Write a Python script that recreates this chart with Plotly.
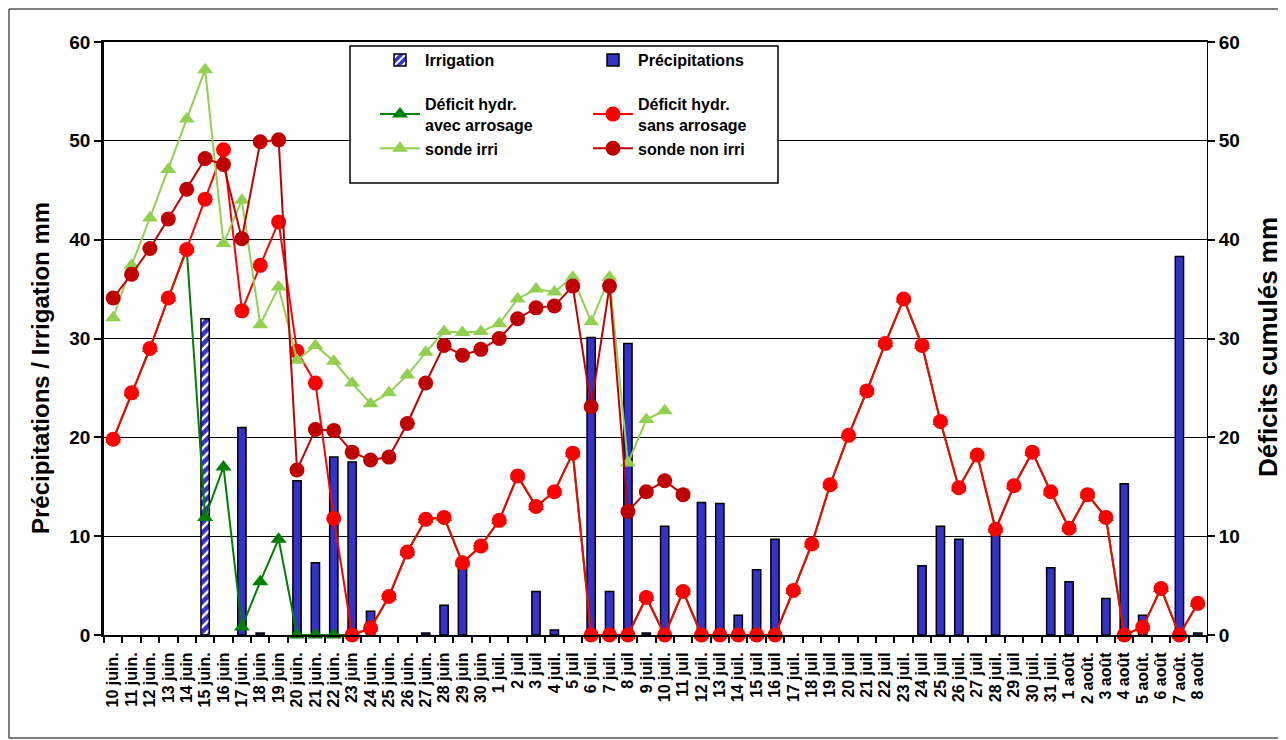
import plotly.graph_objects as go

dates = ["10 juin.", "11 juin.", "12 juin.", "13 juin", "14 juin", "15 juin.", "16 juin", "17 juin.",
         "18 juin", "19 juin", "20 juin.", "21 juin.", "22 juin.", "23 juin", "24 juin.", "25 juin.",
         "26 juin.", "27 juin.", "28 juin", "29 juin", "30 juin", "1 juil.", "2 juil", "3 juil",
         "4 juil.", "5 juil", "6 juil.", "7 juil.", "8 juil", "9 juil.", "10 juil.", "11 juil",
         "12 juil.", "13 juil", "14 juil.", "15 juil", "16 juil", "17 juil.", "18 juil", "19 juil",
         "20 juil", "21 juil", "22 juil", "23 juil.", "24 juil", "25 juil", "26 juil.", "27 juil",
         "28 juil.", "29 juil", "30 juil.", "31 juil.", "1 août", "2 août.", "3 août", "4 août",
         "5 août.", "6 août", "7 août.", "8 août"]

irrigation = [None] * 60
irrigation[5] = 32.0

precipitations = [None, None, None, None, None, None, None, 21.0, 0.2, None,
                  15.6, 7.3, 18.0, 17.5, 2.4, None, None, 0.2, 3.0, 7.2,
                  None, None, None, 4.4, 0.5, None, 30.1, 4.4, 29.5, 0.2,
                  11.0, None, 13.4, 13.3, 2.0, 6.6, 9.7, None, None, None,
                  None, None, None, None, 7.0, 11.0, 9.7, None, 10.5, None,
                  None, 6.8, 5.4, None, 3.7, 15.3, 2.0, None, 38.3, 0.2]

deficit_sans = [19.8, 24.5, 29.0, 34.1, 39.0, 44.1, 49.1, 32.8, 37.4, 41.8,
                28.7, 25.5, 11.8, 0, 0.7, 3.9, 8.4, 11.7, 11.9, 7.3,
                9.0, 11.6, 16.1, 13.0, 14.5, 18.4, 0, 0, 0, 3.8,
                0, 4.4, 0, 0, 0, 0, 0, 4.5, 9.2, 15.2,
                20.2, 24.7, 29.5, 34.0, 29.3, 21.6, 14.9, 18.2, 10.7, 15.1,
                18.5, 14.5, 10.8, 14.2, 11.9, 0, 0.8, 4.7, 0, 3.2]

deficit_avec = [19.8, 24.5, 29.0, 34.1, 39.0, 11.9, 17.0, 0.8, 5.4, 9.7,
                0, 0, 0, 0, 0.7, 3.9, 8.4, 11.7, 11.9, 7.3,
                9.0, 11.6, 16.1, 13.0, 14.5, 18.4, 0, 0, 0, 3.8,
                0, 4.4, 0, 0, 0, 0, 0, 4.5, 9.2, 15.2,
                20.2, 24.7, 29.5, 34.0, 29.3, 21.6, 14.9, 18.2, 10.7, 15.1,
                18.5, 14.5, 10.8, 14.2, 11.9, 0, 0.8, 4.7, 0, 3.2]

sonde_irri = [32.1, 37.4, 42.2, 47.1, 52.2, 57.2, 39.6, 44.0, 31.4, 35.2,
              27.8, 29.3, 27.7, 25.5, 23.4, 24.5, 26.3, 28.6, 30.7, 30.6,
              30.7, 31.5, 34.0, 35.0, 34.7, 36.2, 31.7, 36.2, 17.4, 21.8,
              22.7] + [None] * 29

sonde_non_irri = [34.1, 36.5, 39.1, 42.1, 45.1, 48.2, 47.6, 40.1, 49.9, 50.1,
                  16.7, 20.8, 20.7, 18.5, 17.7, 18.0, 21.4, 25.5, 29.3, 28.3,
                  28.9, 30.0, 32.0, 33.1, 33.3, 35.3, 23.1, 35.3, 12.5, 14.5,
                  15.6, 14.2] + [None] * 28

left_title = "Précipitations / Irrigation mm"
right_title = "Déficits cumulés mm"

FONT = "Liberation Sans, Arial, sans-serif"
BLUE = "#3333CC"

fig = go.Figure()

fig.add_trace(go.Bar(
    x=dates, y=irrigation, name="Irrigation", width=0.45,
    marker=dict(color=BLUE, line=dict(color="black", width=1.5),
                pattern=dict(shape="/", bgcolor=BLUE, fgcolor="white",
                             fillmode="replace", size=7, solidity=0.35)),
    legend="legend", legendgroup="g1", yaxis="y"))

fig.add_trace(go.Bar(
    x=dates, y=precipitations, name="Précipitations", width=0.45,
    marker=dict(color=BLUE, line=dict(color="black", width=1.5)),
    legend="legend2", legendgroup="g3", yaxis="y"))

fig.add_trace(go.Scatter(
    x=dates, y=deficit_avec, name="Déficit hydr.<br>avec arrosage",
    mode="lines+markers", line=dict(color="#008000", width=2),
    marker=dict(symbol="triangle-up", size=14, color="#008000"),
    cliponaxis=False, legend="legend", legendgroup="g2", yaxis="y2"))

fig.add_trace(go.Scatter(
    x=dates, y=deficit_sans, name="Déficit hydr.<br>sans arrosage",
    mode="lines+markers", line=dict(color="#FF0000", width=2),
    marker=dict(symbol="circle", size=15, color="#FF0000"),
    cliponaxis=False, legend="legend2", legendgroup="g4", yaxis="y2"))

fig.add_trace(go.Scatter(
    x=dates, y=sonde_irri, name="sonde irri",
    mode="lines+markers", line=dict(color="#92D050", width=2),
    marker=dict(symbol="triangle-up", size=14, color="#92D050"),
    cliponaxis=False, legend="legend", legendgroup="g2", yaxis="y2"))

fig.add_trace(go.Scatter(
    x=dates, y=sonde_non_irri, name="sonde non irri",
    mode="lines+markers", line=dict(color="#C00000", width=2),
    marker=dict(symbol="circle", size=15, color="#C00000"),
    cliponaxis=False, legend="legend2", legendgroup="g4", yaxis="y2"))

OFF = 8  # page body margin
W, H = 1286 - OFF, 740 - OFF
L, T = 104 - OFF, 42 - OFF
R = W - (1207 - OFF)
B = H - (635 - OFF)
pw, ph = W - L - R, H - T - B

def px(xw):
    return (xw - OFF - L) / pw

def py(yw):
    return (H - B - (yw - OFF)) / ph

legend_font = dict(family=FONT, size=16, color="black", weight="bold")
title_font = dict(family=FONT, size=24, color="black", weight="bold")

fig.update_layout(
    width=W, height=H,
    margin=dict(l=L, r=R, t=T, b=B, autoexpand=False),
    paper_bgcolor="white", plot_bgcolor="white",
    barmode="overlay",
    font=dict(family=FONT, color="black"),
    legend=dict(x=px(375), y=py(43), xanchor="left", yanchor="top",
                bgcolor="rgba(0,0,0,0)", font=legend_font, traceorder="grouped",
                itemwidth=40, tracegroupgap=20),
    legend2=dict(x=px(588), y=py(43), xanchor="left", yanchor="top",
                 bgcolor="rgba(0,0,0,0)", font=legend_font, traceorder="grouped",
                 itemwidth=40, tracegroupgap=20),
    xaxis=dict(type="category", range=[-0.5, 59.5], autorange=False,
               tickmode="linear", tick0=0, dtick=1,
               tickangle=-90, tickson="boundaries",
               ticks="outside", ticklen=6, tickcolor="black", tickwidth=1.5,
               ticklabelstandoff=9,
               showline=True, linecolor="black", linewidth=2, mirror=True,
               showgrid=False,
               tickfont=dict(family=FONT, size=16, color="black", weight="bold")),
    yaxis=dict(range=[0, 60], dtick=10, showgrid=True, gridcolor="black", gridwidth=1,
               showline=True, linecolor="black", linewidth=2.5,
               ticks="outside", ticklen=7, tickcolor="black", tickwidth=1.5,
               zeroline=False,
               tickfont=dict(family=FONT, size=19, color="black", weight="bold")),
    yaxis2=dict(range=[0, 60], dtick=10, overlaying="y", side="right",
                showgrid=False, showline=True, linecolor="black", linewidth=1,
                ticks="outside", ticklen=7, tickcolor="black", tickwidth=1.5,
                zeroline=False,
                tickfont=dict(family=FONT, size=19, color="black", weight="bold")),
    annotations=[
        dict(text=left_title, xref="paper", yref="paper", x=px(40), y=py(368),
             xanchor="center", yanchor="middle", textangle=-90, showarrow=False,
             font=title_font),
        dict(text=right_title, xref="paper", yref="paper", x=px(1268), y=py(347),
             xanchor="center", yanchor="middle", textangle=-90, showarrow=False,
             font=dict(title_font, size=26)),
    ],
    shapes=[
        dict(type="rect", xref="paper", yref="paper",
             x0=px(350), x1=px(778), y0=py(183), y1=py(46),
             fillcolor="white", line=dict(color="black", width=1.5), layer="above"),
        dict(type="rect", xref="paper", yref="paper",
             x0=px(9), x1=px(1284), y0=py(738), y1=py(9),
             fillcolor="rgba(0,0,0,0)", line=dict(color="black", width=1), layer="below"),
    ],
)

fig.write_html("out.html")
